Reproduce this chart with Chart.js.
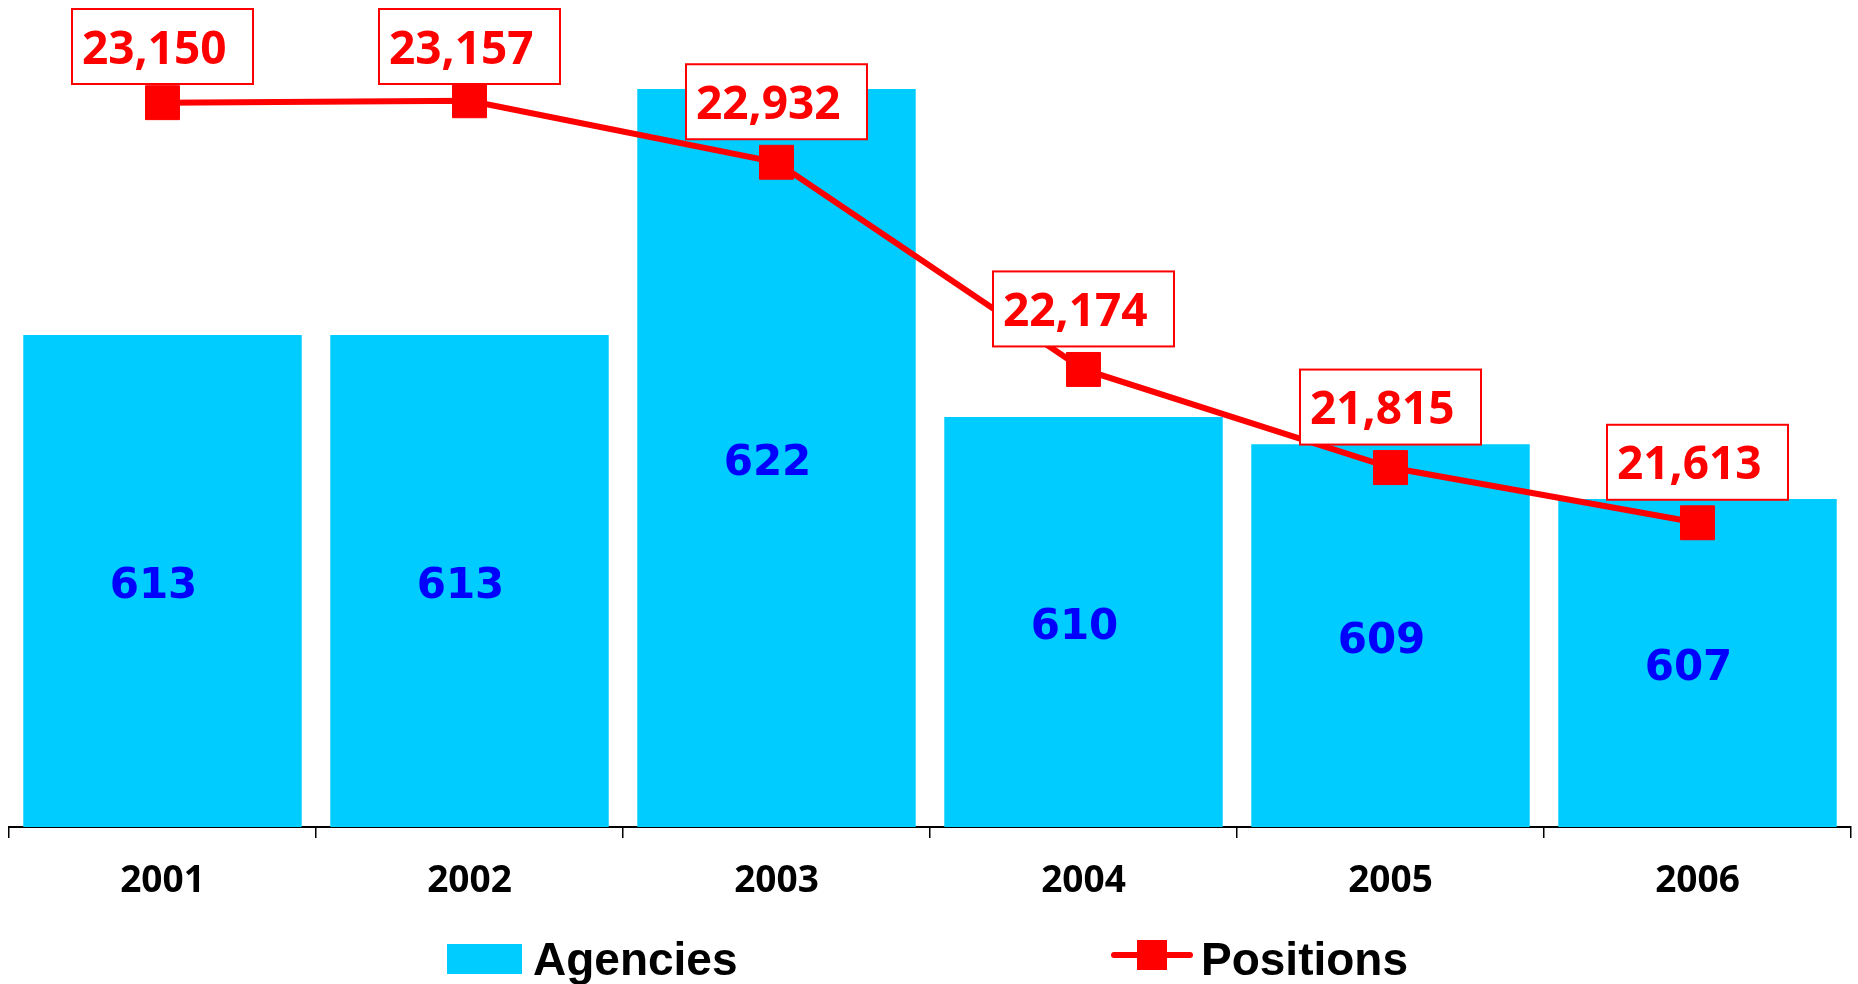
<!DOCTYPE html>
<html><head><meta charset="utf-8">
<script src="https://cdn.jsdelivr.net/npm/chart.js@4.4.1/dist/chart.umd.min.js"></script>
<style>html,body{margin:0;padding:0;background:#fff;overflow:hidden}#wrap{width:1858px;height:984px}</style>
</head><body><div id="wrap"><canvas id="c" width="1858" height="984"></canvas></div>
<script>
const years = ['2001', '2002', '2003', '2004', '2005', '2006'];
const agencies = [613, 613, 622, 610, 609, 607];
const positions = [23150, 23157, 22932, 22174, 21815, 21613];
const agencyRange = [595, 625];
const positionRange = [20500, 23500];
const seriesNames = ['Agencies', 'Positions'];

const CYAN = '#00CCFF', RED = '#FF0000', BLUE = '#0000FF';

const labelPlugin = {
  id: 'valueLabels',
  afterDatasetsDraw(chart) {
    const ctx = chart.ctx;
    const xs = chart.scales.x, ys = chart.scales.y, y1 = chart.scales.y1;
    ctx.save();
    ctx.font = 'bold 42px "DejaVu Sans", sans-serif';
    ctx.fillStyle = BLUE;
    ctx.textAlign = 'center';
    ctx.textBaseline = 'alphabetic';
    agencies.forEach((v, i) => {
      const x = xs.getPixelForValue(i);
      const top = ys.getPixelForValue(v);
      const base = ys.getPixelForValue(agencyRange[0]);
      const cy = (top + base) / 2;
      ctx.fillText(String(v), x - 9, cy + 17);
    });
    positions.forEach((v, i) => {
      const px = xs.getPixelForValue(i);
      const py = y1.getPixelForValue(v);
      const w = 181, h = 75;
      const top = Math.max(py - 23 - h, 9);
      const left = px - w / 2;
      ctx.fillStyle = '#fff';
      ctx.fillRect(left, top, w, h);
      ctx.strokeStyle = RED;
      ctx.lineWidth = 2;
      ctx.strokeRect(left, top, w, h);
      ctx.fillStyle = RED;
      ctx.font = 'bold 46px "Noto Sans", sans-serif';
      ctx.textAlign = 'left';
      ctx.fillText(v.toLocaleString('en-US'), left + 10, top + h / 2 + 17);
    });
    ctx.restore();
  },
  afterDraw(chart) {
    const ctx = chart.ctx;
    const ds = chart.data.datasets;
    ctx.save();
    ctx.font = 'bold 46px "Liberation Sans", Arial, sans-serif';
    ctx.textBaseline = 'alphabetic';
    ctx.textAlign = 'left';
    ctx.fillStyle = ds[0].backgroundColor;
    ctx.fillRect(447, 944, 75, 30);
    ctx.fillStyle = '#000';
    ctx.fillText(ds[0].label, 533, 975);
    ctx.strokeStyle = ds[1].borderColor;
    ctx.lineWidth = 6;
    ctx.lineCap = 'round';
    ctx.beginPath();
    ctx.moveTo(1114, 955);
    ctx.lineTo(1190, 955);
    ctx.stroke();
    ctx.fillStyle = ds[1].borderColor;
    ctx.fillRect(1137, 940, 30, 30);
    ctx.fillStyle = '#000';
    ctx.fillText(ds[1].label, 1201, 975);
    ctx.restore();
  }
};

new Chart(document.getElementById('c'), {
  data: {
    labels: years,
    datasets: [
      {
        type: 'bar', label: seriesNames[0], data: agencies, yAxisID: 'y',
        backgroundColor: CYAN, borderWidth: 0,
        barPercentage: 0.907, categoryPercentage: 1.0, order: 2
      },
      {
        type: 'line', label: seriesNames[1], data: positions, yAxisID: 'y1',
        borderColor: RED, backgroundColor: RED, borderWidth: 6, tension: 0,
        pointStyle: 'rect', pointRadius: 24, pointBorderWidth: 1,
        pointBackgroundColor: RED, pointBorderColor: RED, order: 1
      }
    ]
  },
  options: {
    responsive: false,
    animation: false,
    devicePixelRatio: 1,
    layout: { autoPadding: false, padding: { top: 7, left: 9, right: 7, bottom: 0 } },
    plugins: { legend: { display: false }, tooltip: { enabled: false } },
    scales: {
      x: {
        grid: { offset: true, drawOnChartArea: false, drawTicks: true, tickLength: 11, color: '#000', lineWidth: 1.5 },
        border: { display: true, color: '#000', width: 2 },
        ticks: { color: '#000', padding: 21, font: { family: '"Open Sans", sans-serif', size: 37, weight: 'bold' } },
        afterFit(scale) { scale.height = 157; }
      },
      y: { display: false, min: agencyRange[0], max: agencyRange[1] },
      y1: { display: false, min: positionRange[0], max: positionRange[1] }
    }
  },
  plugins: [labelPlugin]
});
</script>
</body></html>
